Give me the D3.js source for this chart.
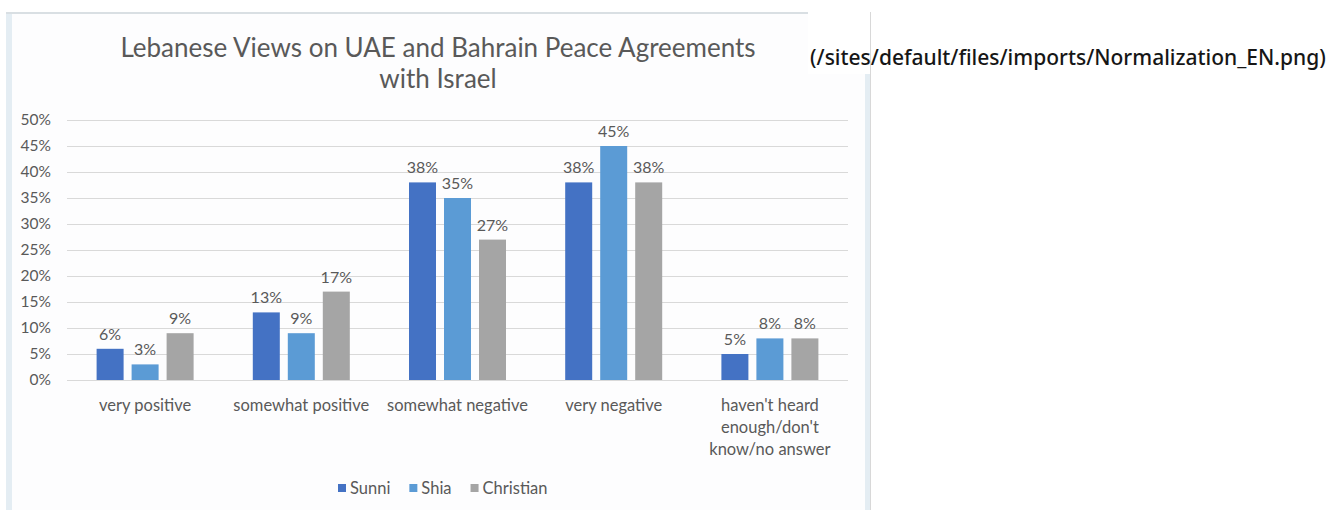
<!DOCTYPE html>
<html>
<head>
<meta charset="utf-8">
<script src="https://cdn.jsdelivr.net/npm/d3@7"></script>
<style>
  html, body { margin: 0; padding: 0; background: #ffffff; }
  svg { display: block; }
</style>
</head>
<body>
<svg id="chart" width="1339" height="510"></svg>
<script>
// Survey results by sect
const categories = ["very positive", "somewhat positive", "somewhat negative", "very negative", "haven't heard enough/don't know/no answer"];
const categoryLines = [["very positive"], ["somewhat positive"], ["somewhat negative"], ["very negative"], ["haven't heard", "enough/don't", "know/no answer"]];
const series = ["Sunni", "Shia", "Christian"];
const sunni = [0.06, 0.13, 0.38, 0.38, 0.05];
const shia = [0.03, 0.09, 0.35, 0.45, 0.08];
const christian = [0.09, 0.17, 0.27, 0.38, 0.08];
const yTicks = [0, 0.05, 0.10, 0.15, 0.20, 0.25, 0.30, 0.35, 0.40, 0.45, 0.50];
const titleLines = ["Lebanese Views on UAE and Bahrain Peace Agreements", "with Israel"];
const sourceText = "(/sites/default/files/imports/Normalization_EN.png)";

const values = { Sunni: sunni, Shia: shia, Christian: christian };
const colors = { Sunni: "#4472c4", Shia: "#5b9bd5", Christian: "#a5a5a5" };

const svg = d3.select("#chart");
const font = "Lato, 'Open Sans', sans-serif";
const textColor = "#595959";

// Image frame
svg.append("rect").attr("x", 6).attr("y", 12).attr("width", 864).attr("height", 510).attr("fill", "#fdfdfe");
svg.append("rect").attr("x", 6).attr("y", 12).attr("width", 6).attr("height", 498).attr("fill", "#e4edf3");
svg.append("rect").attr("x", 6).attr("y", 12).attr("width", 802).attr("height", 2).attr("fill", "#d9dfe3");
svg.append("rect").attr("x", 808).attr("y", 12).attr("width", 62).attr("height", 62).attr("fill", "#ffffff");
svg.append("rect").attr("x", 865).attr("y", 74).attr("width", 5).attr("height", 436).attr("fill", "#e4edf3");
svg.append("line").attr("x1", 870.5).attr("x2", 870.5).attr("y1", 12).attr("y2", 510).attr("stroke", "#d8d8d8");

const x = d3.scaleBand().domain(categories).range([67, 848]);
const xs = d3.scaleBand().domain(series).range([-52.5, 52.5]).paddingInner(8 / 35).paddingOuter(4 / 35);
const y = d3.scaleLinear().domain([0, 0.5]).range([380, 120]);

// Gridlines and y axis labels
const yAxis = d3.axisLeft(y).tickValues(yTicks).tickFormat(d3.format(".0%")).tickSize(-(848 - 67)).tickPadding(16);
const gy = svg.append("g").attr("transform", "translate(67,0)").call(yAxis);
gy.select(".domain").remove();
gy.selectAll(".tick line").attr("stroke", "#d9d9d9").attr("shape-rendering", "crispEdges");
gy.selectAll(".tick text").attr("fill", textColor).style("font-family", font).style("font-size", "15.5px");

// Bars
const groups = svg.append("g").selectAll("g").data(categories).join("g")
  .attr("transform", d => `translate(${x(d) + x.bandwidth() / 2},0)`);

series.forEach(s => {
  groups.append("rect")
    .attr("x", xs(s))
    .attr("width", xs.bandwidth())
    .attr("y", (d, i) => y(values[s][i]))
    .attr("height", (d, i) => y(0) - y(values[s][i]))
    .attr("fill", colors[s]);
  groups.append("text")
    .attr("x", xs(s) + xs.bandwidth() / 2)
    .attr("y", (d, i) => y(values[s][i]) - 9)
    .attr("text-anchor", "middle")
    .attr("fill", textColor)
    .style("font-family", font).style("font-size", "16px")
    .text((d, i) => d3.format(".0%")(values[s][i]));
});

// Category labels
const gx = svg.append("g");
categories.forEach((c, i) => {
  const t = gx.append("text")
    .attr("x", x(c) + x.bandwidth() / 2)
    .attr("y", 411)
    .attr("text-anchor", "middle")
    .attr("fill", textColor)
    .style("font-family", font).style("font-size", "16.5px");
  categoryLines[i].forEach((line, j) => {
    t.append("tspan").attr("x", x(c) + x.bandwidth() / 2).attr("dy", j === 0 ? 0 : 22).text(line);
  });
});

// Title
svg.append("text")
  .attr("x", 438).attr("y", 57)
  .attr("text-anchor", "middle")
  .attr("fill", textColor)
  .style("font-family", font).style("font-size", "26px")
  .selectAll("tspan").data(titleLines).join("tspan")
  .attr("x", 438).attr("dy", (d, i) => i === 0 ? 0 : 31).text(d => d);

// Legend
const legend = svg.append("g").attr("transform", "translate(338,488)");
let lx = 0;
series.forEach(s => {
  const g = legend.append("g").attr("transform", `translate(${lx},0)`);
  g.append("rect").attr("x", 0).attr("y", -4).attr("width", 8).attr("height", 8).attr("fill", colors[s]);
  const t = g.append("text").attr("x", 12).attr("y", 6)
    .attr("fill", textColor)
    .style("font-family", font).style("font-size", "16.5px").text(s);
  lx += 12 + t.node().getComputedTextLength() + 19;
});

// Source link text
svg.append("text")
  .attr("x", 810).attr("y", 65)
  .attr("fill", "#161616")
  .style("font-family", "'Noto Sans', sans-serif").style("font-size", "21px").style("font-weight", "500")
  .text(sourceText);
</script>
</body>
</html>
